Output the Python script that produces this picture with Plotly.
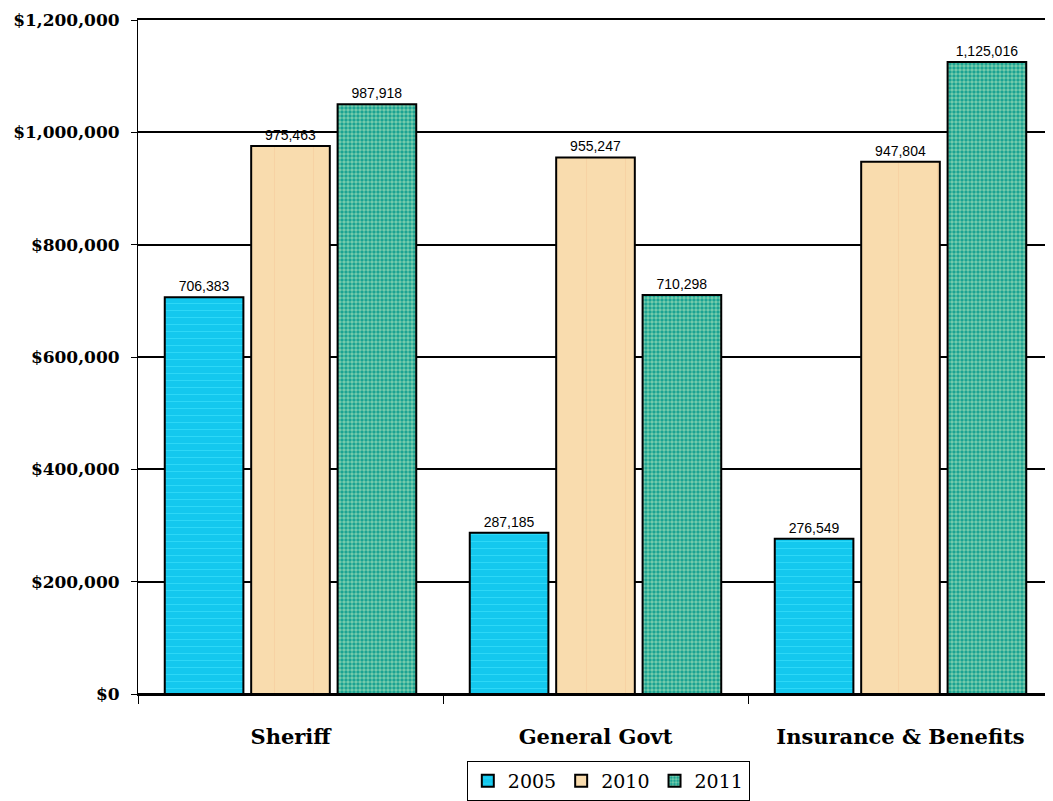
import plotly.graph_objects as go

categories = ["Sheriff", "General Govt", "Insurance & Benefits"]
years = ["2005", "2010", "2011"]
# bar heights as drawn in the picture
values_2005 = [706383, 287185, 276549]
values_2010 = [975463, 955247, 947804]
values_2011 = [1050000, 710298, 1125016]
# data labels as printed
labels_2005 = ["706,383", "287,185", "276,549"]
labels_2010 = ["975,463", "955,247", "947,804"]
labels_2011 = ["987,918", "710,298", "1,125,016"]
y_ticks = [0, 200000, 400000, 600000, 800000, 1000000, 1200000]
y_tick_labels = ["$0", "$200,000", "$400,000", "$600,000", "$800,000", "$1,000,000", "$1,200,000"]

series = [
    (years[0], values_2005, labels_2005, dict(color="#14C8EE", pattern=dict(shape="-", fgcolor="#45E8FF", bgcolor="#14C8EE", size=7, solidity=0.15))),
    (years[1], values_2010, labels_2010, dict(color="#F9DCAE", pattern=dict(shape="|", fgcolor="#F5C89A", bgcolor="#F9DCAE", size=39, solidity=0.03))),
    (years[2], values_2011, labels_2011, dict(color="#129E8E", pattern=dict(shape=".", fgcolor="#D4F7C8", bgcolor="#129E8E", size=4, solidity=0.6))),
]

fig = go.Figure()
for name, vals, labs, mk in series:
    fig.add_trace(go.Bar(
        x=categories, y=vals, name=name, text=labs,
        textposition="outside", cliponaxis=False,
        textfont=dict(family="Liberation Sans, Arial", size=14, color="#000000"),
        marker=dict(color=mk["color"], pattern=mk["pattern"], line=dict(color="#000000", width=2)),
    ))

fig.update_layout(
    width=1045, height=793,
    margin=dict(l=130, r=0, t=12, b=105),
    paper_bgcolor="white", plot_bgcolor="white",
    barmode="group", bargap=0.15, bargroupgap=0.09,
    showlegend=True,
    legend=dict(orientation="h", x=0.514, xanchor="center", y=-0.1, yanchor="top",
                bordercolor="#000000", borderwidth=1,
                font=dict(family="DejaVu Serif", size=19, color="#000000"),
                itemwidth=30, tracegroupgap=0),
    xaxis=dict(tickson="boundaries", ticks="outside", ticklen=8, tickcolor="#000000",
               showline=True, mirror=True, linecolor="#000000", linewidth=1.5,
               showgrid=False, ticklabelstandoff=23, automargin=False,
               tickfont=dict(family="DejaVu Serif", size=21, color="#000000", weight="bold")),
    yaxis=dict(range=[0, 1200000], tickvals=y_ticks, ticktext=y_tick_labels, automargin=False,
               ticklabeloverflow="allow",
               showgrid=True, gridcolor="#000000", gridwidth=1.5,
               showline=True, linecolor="#000000", linewidth=1,
               ticks="outside", ticklen=6, tickcolor="#000000", ticklabelstandoff=8,
               zeroline=True, zerolinecolor="#000000", zerolinewidth=2,
               tickfont=dict(family="DejaVu Serif", size=17, color="#000000", weight="bold")),
)

fig.write_html("out.html")
